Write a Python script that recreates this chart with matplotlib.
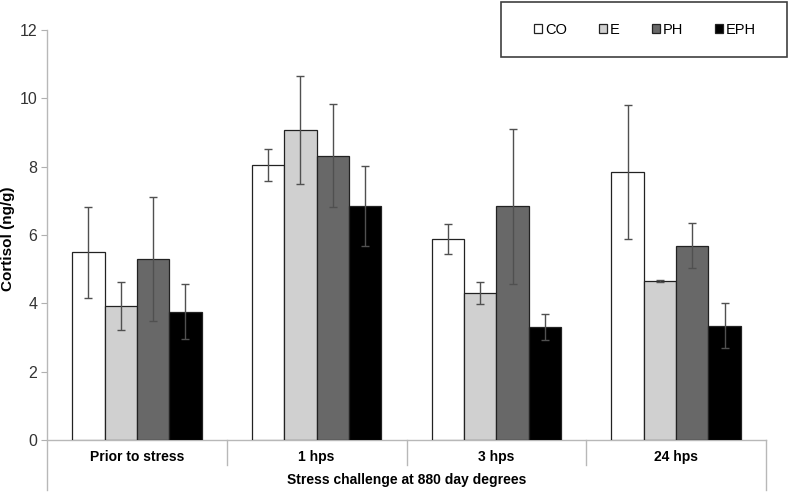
import numpy as np
import matplotlib
matplotlib.use('Agg')
from matplotlib import pyplot as plt
from matplotlib.patches import Rectangle

plt.rcParams['font.family'] = ['Liberation Sans', 'DejaVu Sans']

# data
groups = ['Prior to stress', '1 hps', '3 hps', '24 hps']
series = ['CO', 'E', 'PH', 'EPH']
co = [5.49, 8.05, 5.89, 7.85]
e = [3.92, 9.07, 4.29, 4.65]
ph = [5.30, 8.32, 6.84, 5.69]
eph = [3.76, 6.86, 3.31, 3.35]
co_err = [1.32, 0.47, 0.44, 1.96]
e_err = [0.70, 1.59, 0.32, 0.03]
ph_err = [1.82, 1.51, 2.27, 0.67]
eph_err = [0.81, 1.17, 0.37, 0.66]

values = [co, e, ph, eph]
errors = [co_err, e_err, ph_err, eph_err]
colors = ['white', '#d0d0d0', '#686868', 'black']

fig = plt.figure(figsize=(7.89, 4.92), dpi=100)
ax = fig.add_axes([47/789, 1-440/492, 719/789, 410/492])

x = np.arange(len(groups))
w = 0.18
for i in range(4):
    ax.bar(x + (i - 1.5)*w, values[i], w, color=colors[i], edgecolor='#222222',
           linewidth=0.9, label=series[i], zorder=2)
    ax.errorbar(x + (i - 1.5)*w, values[i], yerr=errors[i], fmt='none',
                ecolor='#505050', elinewidth=1, capsize=2.6, capthick=1, zorder=3)

ax.set_xlim(-0.5, 3.5)
ax.set_ylim(0, 12)
ax.set_yticks(range(0, 13, 2))
ax.tick_params(axis='y', length=4, color='#b0b0b0', labelsize=11.5, labelcolor='#333333', pad=3)
ax.set_xticks(x)
ax.set_xticklabels(groups, fontweight='bold', fontsize=10)
ax.tick_params(axis='x', length=0, pad=7)

for s in ['top', 'right', 'left', 'bottom']:
    ax.spines[s].set_visible(False)

# axis lines, excel style
lc = '#b8b8b8'
ax.plot([-0.5, -0.5], [-0.122, 1], color=lc, lw=1, clip_on=False,
        transform=ax.get_xaxis_transform())
ax.plot([3.5, 3.5], [-0.122, 0], color=lc, lw=1, clip_on=False,
        transform=ax.get_xaxis_transform())
ax.plot([-0.5, 3.5], [0, 0], color=lc, lw=1, clip_on=False, zorder=1,
        transform=ax.get_xaxis_transform())
for b in [0.5, 1.5, 2.5]:
    ax.plot([b, b], [-0.061, 0], color=lc, lw=1, clip_on=False,
            transform=ax.get_xaxis_transform())

ax.set_ylabel('Cortisol (ng/g)', fontweight='bold', fontsize=11)
ax.yaxis.set_label_coords(-0.045, 0.49)
ax.text(0.5, -0.098, 'Stress challenge at 880 day degrees', transform=ax.transAxes,
        ha='center', va='center', fontweight='bold', fontsize=10)

# legend box
fig.patches.append(Rectangle((501/789, 1-57/492), 286/789, 55/492, transform=fig.transFigure,
                             fill=False, edgecolor='#404040', linewidth=1.2))
fig.legend(loc='center', bbox_to_anchor=(645/789, 1-30/492), ncol=4, frameon=False,
           fontsize=10.5, handlelength=0.55, handleheight=0.55, handletextpad=0.2,
           columnspacing=2.2)

fig.savefig('out.png', dpi=100)
